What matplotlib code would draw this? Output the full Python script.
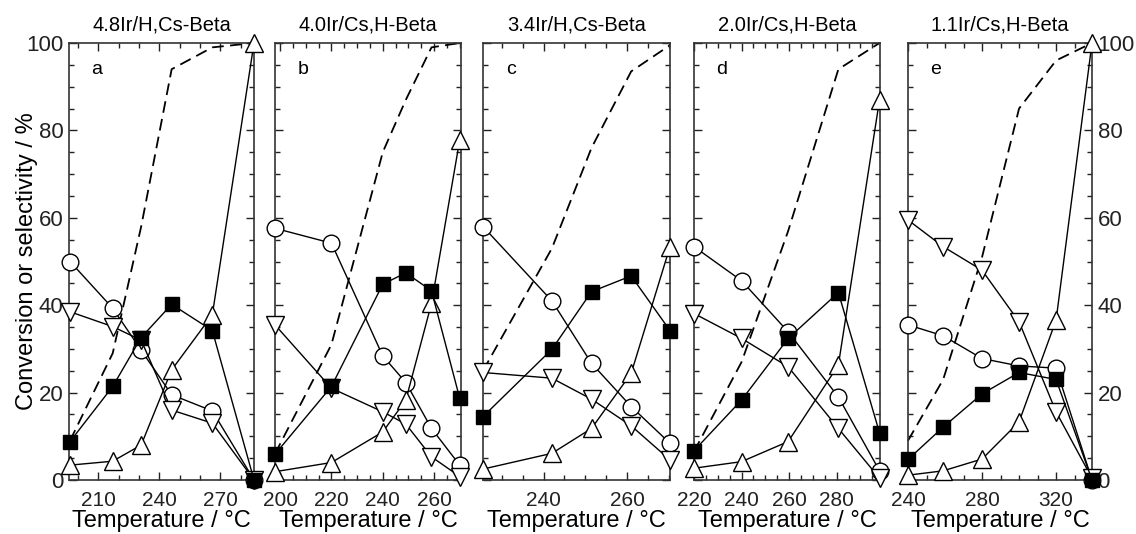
import matplotlib
matplotlib.use("Agg")
import matplotlib.pyplot as plt
from matplotlib.ticker import MultipleLocator

plt.rcParams['font.family'] = ['Liberation Sans', 'DejaVu Sans']

titles = ["4.8Ir/H,Cs-Beta", "4.0Ir/Cs,H-Beta", "3.4Ir/H,Cs-Beta", "2.0Ir/Cs,H-Beta", "1.1Ir/Cs,H-Beta"]
letters = ["a", "b", "c", "d", "e"]

# Panel a
temp_a = [196, 217, 231, 246, 266, 286.5]
conv_a = [9, 29, 58, 94, 99, 100]
circ_a = [50, 39.3, 29.7, 19.5, 15.8, 0]
sq_a = [8.8, 21.4, 32.6, 40.2, 34.2, 0]
up_a = [3.4, 4.3, 8.0, 25.2, 37.8, 100]
down_a = [38.5, 35.1, 32, 16, 13, 0]

# Panel b
temp_b = [198, 220, 240, 249, 259, 270]
conv_b = [6, 31, 75, 87, 99, 100]
circ_b = [57.6, 54.2, 28.4, 22.3, 11.8, 3.4]
sq_b = [5.9, 21.4, 44.8, 47.4, 43.3, 18.7]
up_b = [1.9, 4.0, 11, 18.3, 40.4, 77.8]
down_b = [35.5, 21, 15.6, 12.8, 5.3, 0.8]

# Panel c
temp_c = [225.5, 242, 251.5, 261, 270.3]
conv_c = [25, 53, 76, 93.5, 99.5]
circ_c = [58, 41, 26.7, 16.8, 8.4]
sq_c = [14.5, 29.9, 43.1, 46.7, 34.2]
up_c = [2.5, 6.1, 11.8, 24.4, 53.4]
down_c = [24.6, 23.3, 18.5, 12.4, 4.6]

# Panel d
temp_d = [220, 240, 259.6, 280.7, 298]
conv_d = [6.5, 27, 57, 94, 100]
circ_d = [53.4, 45.6, 33.9, 19, 2.1]
sq_d = [6.7, 18.3, 32.4, 42.9, 10.8]
up_d = [2.7, 4.2, 8.8, 26.3, 87.0]
down_d = [38.1, 32.4, 25.9, 11.8, 0.4]

# Panel e
temp_e = [240, 259, 280, 300, 320, 339.4]
conv_e = [9, 23, 51, 85, 96, 100]
circ_e = [35.5, 33, 27.8, 26.1, 25.6, 0]
sq_e = [4.7, 12.1, 19.7, 24.6, 23.0, 0]
up_e = [1.1, 2.1, 4.8, 13.3, 36.6, 100]
down_e = [59.5, 53.4, 48, 36.2, 15.6, 0.4]

panels = [
    (temp_a, conv_a, circ_a, sq_a, up_a, down_a),
    (temp_b, conv_b, circ_b, sq_b, up_b, down_b),
    (temp_c, conv_c, circ_c, sq_c, up_c, down_c),
    (temp_d, conv_d, circ_d, sq_d, up_d, down_d),
    (temp_e, conv_e, circ_e, sq_e, up_e, down_e),
]

xlims = [(195.5, 286.5), (198, 270.5), (225.5, 270.3), (220, 298.2), (240, 339.4)]
xmajor = [30, 20, 20, 20, 40]
xminor = [10, 5, 5, 5, 10]

W, H = 1136, 534
fig = plt.figure(figsize=(W / 100, H / 100), dpi=100)
px_lr = [(69, 254), (275, 461), (483, 670), (694, 880), (908, 1092)]
top_px, bot_px = 43, 480

for i, (data, (l, r)) in enumerate(zip(panels, px_lr)):
    temp, conv, circ, sq, up, down = data
    ax = fig.add_axes([l / W, 1 - bot_px / H, (r - l) / W, (bot_px - top_px) / H])
    lw = 1.0
    ax.plot(temp, conv, color='black', lw=1.3, linestyle=(0, (6.5, 3.5)), zorder=2, clip_on=False)
    ax.plot(temp, circ, color='black', lw=lw, marker='o', ms=12, mfc='white', mec='black', mew=1.0, zorder=3, clip_on=False)
    ax.plot(temp, down, color='black', lw=lw, marker='v', ms=12.5, mfc='white', mec='black', mew=1.0, zorder=4, clip_on=False)
    ax.plot(temp, up, color='black', lw=lw, marker='^', ms=12.5, mfc='white', mec='black', mew=1.0, zorder=5, clip_on=False)
    ax.plot(temp, sq, color='black', lw=lw, marker='s', ms=10.5, mfc='black', mec='black', mew=1.0, zorder=6, clip_on=False)

    ax.set_xlim(*xlims[i])
    ax.set_ylim(0, 100)
    ax.xaxis.set_major_locator(MultipleLocator(xmajor[i]))
    ax.xaxis.set_minor_locator(MultipleLocator(xminor[i]))
    ax.yaxis.set_major_locator(MultipleLocator(20))
    ax.yaxis.set_minor_locator(MultipleLocator(5))
    ax.tick_params(which='both', direction='in', top=True, right=True, colors='#222222')
    ax.tick_params(which='major', length=6, width=1.0, labelsize=15, pad=8)
    ax.tick_params(which='minor', length=3.5, width=1.0)
    ax.tick_params(axis='y', labelsize=16, pad=4)
    for s in ax.spines.values():
        s.set_linewidth(1.2)
        s.set_color('#333333')
    ax.tick_params(axis='y', labelleft=(i == 0), labelright=(i == 4))
    ax.set_title(titles[i], fontsize=14.5, pad=9)
    ax.text(0.15, 0.94, letters[i], transform=ax.transAxes, fontsize=14, ha='center', va='center')
    ax.set_xlabel("Temperature / °C", fontsize=17, labelpad=0)
    if i == 0:
        ax.set_ylabel("Conversion or selectivity / %", fontsize=17)
        ax.yaxis.set_label_coords(-0.17, 0.5)

fig.savefig("out.png", dpi=100)
